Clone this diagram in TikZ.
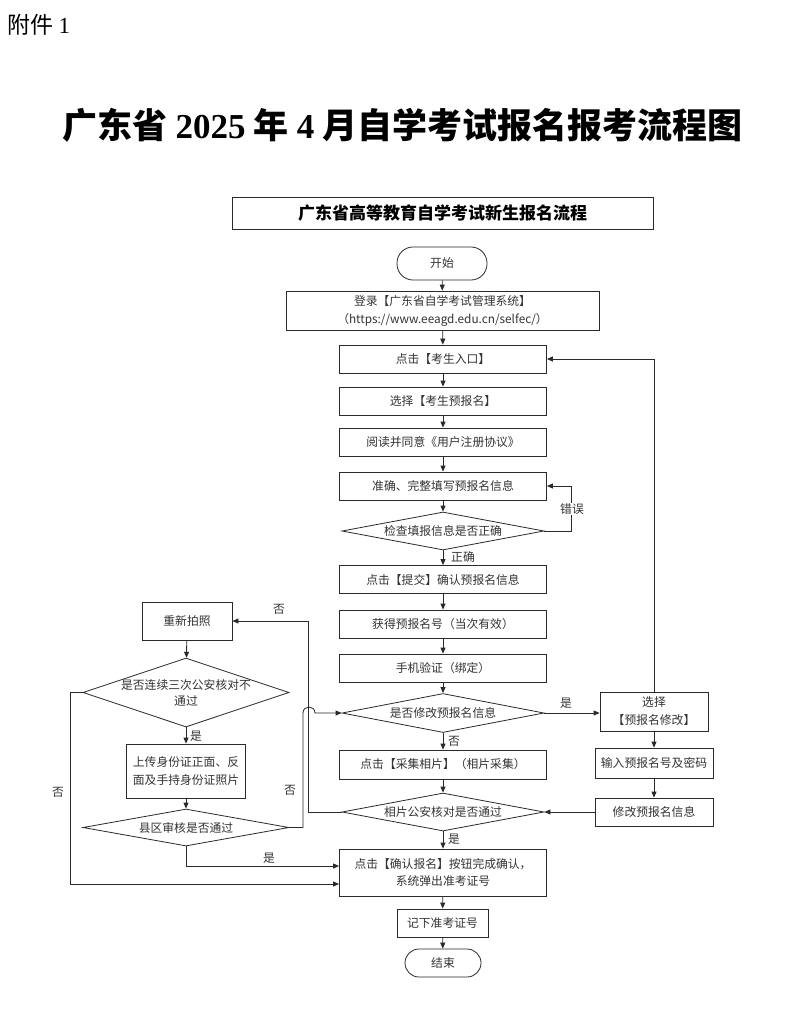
\documentclass[tikz,border=0pt]{standalone}
\usepackage{fontspec}
\newfontfamily\cjk{Noto Sans CJK SC}
\newfontfamily\tnr{Liberation Serif}
\usetikzlibrary{arrows.meta,shapes.geometric}
\definecolor{linec}{HTML}{2A2A2A}
\definecolor{txtc}{HTML}{333333}
\begin{document}
\begin{tikzpicture}[x=1pt,y=-1pt,
  every node/.style={font=\cjk\fontsize{11.8}{18}\selectfont, text=txtc},
  box/.style={draw=linec, line width=0.8pt, rectangle, inner sep=0pt, align=center},
  dia/.style={draw=linec, line width=0.8pt, diamond, inner sep=0pt, minimum width=202pt, minimum height=38pt},
  arr/.style={draw=linec, line width=0.8pt, -{Triangle[length=6pt,width=5pt]}},
  lab/.style={inner sep=1pt},
]
\useasboundingbox (0,0) rectangle (800,1029);
\fill[white] (0,0) rectangle (800,1029);

% headings
\node[anchor=west, font=\cjk\fontsize{23}{26}\selectfont, text=black] (att) at (4,25) {附件 {\tnr 1}};
\node[font=\cjk\bfseries\fontsize{35}{40}\selectfont, text=black] (title) at (402.5,125)
  {广东省 {\tnr\bfseries 2025} 年 {\tnr\bfseries 4} 月自学考试报名报考流程图};
\node[box, minimum width=421pt, minimum height=32pt, font=\cjk\bfseries\fontsize{17}{20}\selectfont, text=black] (hdr) at (442.5,213) {广东省高等教育自学考试新生报名流程};

% main column
\node[box, rounded corners=16pt, minimum width=90pt, minimum height=33pt] (start) at (442,263.5) {开始};
\node[box, minimum width=313pt, minimum height=39pt] (login) at (442.5,310.5) {登录【广东省自学考试管理系统】\\（https://www.eeagd.edu.cn/selfec/）};
\node[box, minimum width=207pt, minimum height=28pt] (n1) at (443,359) {点击【考生入口】};
\node[box, minimum width=207pt, minimum height=28pt] (n2) at (443,401) {选择【考生预报名】};
\node[box, minimum width=207pt, minimum height=28pt] (n3) at (443,442) {阅读并同意《用户注册协议》};
\node[box, minimum width=207pt, minimum height=28pt] (n4) at (443,486) {准确、完整填写预报名信息};
\node[dia, label={center:检查填报信息是否正确}] (d1) at (443,531) {};
\node[box, minimum width=207pt, minimum height=28pt] (n5) at (443,579.5) {点击【提交】确认预报名信息};
\node[box, minimum width=207pt, minimum height=28pt] (n6) at (443,624) {获得预报名号（当次有效）};
\node[box, minimum width=207pt, minimum height=28pt] (n7) at (443,668) {手机验证（绑定）};
\node[dia, minimum height=39pt, label={center:是否修改预报名信息}] (d2) at (443,713) {};
\node[box, minimum width=207pt, minimum height=29pt] (n8) at (443,764.5) {点击【采集相片】（相片采集）};
\node[dia, label={center:相片公安核对是否通过}] (d3) at (443,812) {};
\node[box, minimum width=207pt, minimum height=47pt, font=\cjk\fontsize{11.8}{17}\selectfont] (n9) at (443,872.5) {点击【确认报名】按钮完成确认，\\系统弹出准考证号};
\node[box, minimum width=91pt, minimum height=28pt] (n10) at (442.5,923) {记下准考证号};
\node[box, rounded corners=14pt, minimum width=76pt, minimum height=28pt] (end) at (443,963) {结束};

% right column
\node[box, minimum width=108pt, minimum height=39pt] (r1) at (654,711.5) {选择\\【预报名修改】};
\node[box, minimum width=118pt, minimum height=30pt] (r2) at (654,763) {输入预报名号及密码};
\node[box, minimum width=118pt, minimum height=28pt] (r3) at (654,812) {修改预报名信息};

% left column
\node[box, minimum width=90pt, minimum height=38pt] (l1) at (187,621) {重新拍照};
\node[dia, minimum width=206pt, minimum height=69pt, label={[align=center, font=\cjk\fontsize{11.8}{16}\selectfont]center:是否连续三次公安核对不\\通过}] (ld1) at (186,692.5) {};
\node[box, minimum width=119pt, minimum height=54pt] (l2) at (186,771) {上传身份证正面、反\\面及手持身份证照片};
\node[dia, minimum width=206pt, minimum height=37pt, label={center:县区审核是否通过}] (ld2) at (186,827.5) {};

% main flow arrows
\draw[arr] (start) -- (login);
\draw[arr] (login) -- (n1);
\draw[arr] (n1) -- (n2);
\draw[arr] (n2) -- (n3);
\draw[arr] (n3) -- (n4);
\draw[arr] (n4) -- (d1);
\draw[arr] (d1) -- (n5);
\draw[arr] (n5) -- (n6);
\draw[arr] (n6) -- (n7);
\draw[arr] (n7) -- (d2);
\draw[arr] (d2) -- (n8);
\draw[arr] (n8) -- (d3);
\draw[arr] (d3) -- (n9);
\draw[arr] (n9) -- (n10);
\draw[arr] (n10) -- (end);

% error loop
\draw[arr] (d1.east) -- ++(27,0) |- (n4.east);
\node[lab, fill=white] (lerr) at (572,509) {错误};
\node[lab] (lok) at (463,557) {正确};

% modify branch
\draw[arr] (d2.east) -- (d2.east -| r1.west);
\node[lab] (lyes1) at (566,703) {是};
\draw[arr] (r1) -- (r2);
\draw[arr] (r2) -- (r3);
\draw[arr] (r3.west) -- (d3.east);
\draw[arr] (r1.north) |- (n1.east);
\node[lab] (lno1) at (454,741) {否};
\node[lab] (lyes2) at (454,839) {是};

% photo failure branch
\draw[arr] (d3.west) -- ++(-33,0) |- (l1.east);
\node[lab] (lno2) at (279,609) {否};
\draw[arr] (l1) -- (ld1);
\draw[arr] (ld1) -- (l2);
\node[lab] (lyes3) at (196,736) {是};
\draw[arr] (l2) -- (ld2);

% county review
\coordinate (hopA) at (303,713);
\coordinate (hopB) at (315,713);
\draw[arr] (ld2.east) -| (hopA) .. controls +(0,-8) and +(0,-8) .. (hopB) -- (d2.west);
\node[lab] (lno3) at (290,790) {否};
\draw[arr] (ld2.south) |- ([yshift=6.5pt]n9.west);
\node[lab] (lyes4) at (269,858) {是};
\draw[arr] (ld1.west) -- ++(-12,0) |- ([yshift=-11.5pt]n9.west);
\node[lab] (lno4) at (58,792) {否};
\end{tikzpicture}
\end{document}
